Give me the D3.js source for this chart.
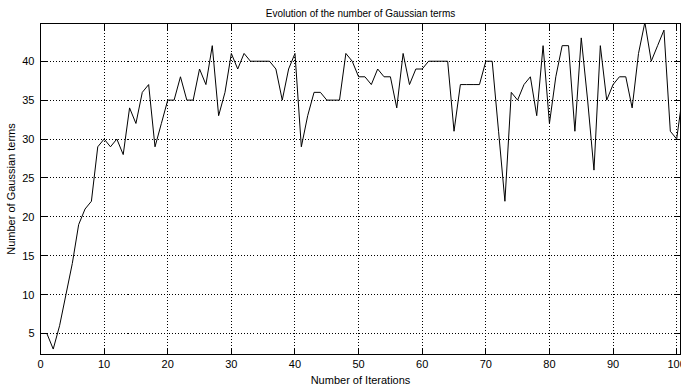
<!DOCTYPE html>
<html>
<head>
<meta charset="utf-8">
<script src="https://cdn.jsdelivr.net/npm/d3@7"></script>
<style>
  body { margin: 0; background: #fff; }
  svg { display: block; font-family: "Liberation Sans", Arial, sans-serif; }
  .grid line { stroke: #000; stroke-dasharray: 1,2; shape-rendering: crispEdges; }
  .tick-label { font-size: 11px; fill: #000; }
  .label { font-size: 11px; fill: #000; }
</style>
</head>
<body>
<svg width="681" height="388"></svg>
<script>
// number of Gaussian terms per iteration (index = iteration)
const gaussTerms = [
  5, 5, 3, 6, 10, 14, 19, 21, 22, 29,
  30, 29, 30, 28, 34, 32, 36, 37, 29, 32,
  35, 35, 38, 35, 35, 39, 37, 42, 33, 36,
  41, 39, 41, 40, 40, 40, 40, 39, 35, 39,
  41, 29, 33, 36, 36, 35, 35, 35, 41, 40,
  38, 38, 37, 39, 38, 38, 34, 41, 37, 39,
  39, 40, 40, 40, 40, 31, 37, 37, 37, 37,
  40, 40, 31, 22, 36, 35, 37, 38, 33, 42,
  32, 38, 42, 42, 31, 43, 35, 26, 42, 35,
  37, 38, 38, 34, 41, 45, 40, 42, 44, 31,
  30, 36
];
const xTicks = [0, 10, 20, 30, 40, 50, 60, 70, 80, 90, 100];
const yTicks = [5, 10, 15, 20, 25, 30, 35, 40];

const data = gaussTerms.map((v, i) => ({ iter: i, value: v }));

const svg = d3.select("svg");

// plot box (MATLAB-like axes position)
const box = { left: 40.5, right: 680.5, top: 23.5, bottom: 354.5 };

const x = d3.scaleLinear().domain([0, 100.6]).range([box.left, box.right]);
const y = d3.scaleLinear().domain([2.3, 44.85]).range([box.bottom, box.top]);

const snap = v => Math.round(v - 0.5) + 0.5;

// dotted grid
const grid = svg.append("g").attr("class", "grid");
grid.selectAll(".gx").data(xTicks.slice(1)).join("line")
  .attr("x1", d => snap(x(d))).attr("x2", d => snap(x(d)))
  .attr("y1", box.top).attr("y2", box.bottom);
grid.selectAll(".gy").data(yTicks).join("line")
  .attr("x1", box.left).attr("x2", box.right)
  .attr("y1", d => snap(y(d))).attr("y2", d => snap(y(d)));

// data line, clipped to the axes
svg.append("clipPath").attr("id", "clip")
  .append("rect").attr("x", box.left).attr("y", box.top)
  .attr("width", box.right - box.left).attr("height", box.bottom - box.top);

const line = d3.line()
  .x(d => x(d.iter))
  .y(d => y(d.value));

svg.append("path")
  .datum(data)
  .attr("clip-path", "url(#clip)")
  .attr("fill", "none")
  .attr("stroke", "#000")
  .attr("stroke-width", 1)
  .attr("d", line);

// inward ticks on all four sides
const tickLen = 6;
const ticks = svg.append("g").attr("stroke", "#000").attr("shape-rendering", "crispEdges");
xTicks.forEach(t => {
  const px = snap(x(t));
  ticks.append("line").attr("x1", px).attr("x2", px).attr("y1", box.bottom).attr("y2", box.bottom - tickLen);
  ticks.append("line").attr("x1", px).attr("x2", px).attr("y1", box.top).attr("y2", box.top + tickLen);
});
yTicks.forEach(t => {
  const py = snap(y(t));
  ticks.append("line").attr("x1", box.left).attr("x2", box.left + tickLen).attr("y1", py).attr("y2", py);
  ticks.append("line").attr("x1", box.right).attr("x2", box.right - tickLen).attr("y1", py).attr("y2", py);
});

// box
svg.append("rect")
  .attr("x", box.left).attr("y", box.top)
  .attr("width", box.right - box.left).attr("height", box.bottom - box.top)
  .attr("fill", "none").attr("stroke", "#000")
  .attr("shape-rendering", "crispEdges");

// tick labels
svg.append("g").selectAll("text").data(xTicks).join("text")
  .attr("class", "tick-label")
  .attr("x", d => x(d))
  .attr("y", box.bottom + 13)
  .attr("text-anchor", "middle")
  .text(d => d);

svg.append("g").selectAll("text").data(yTicks).join("text")
  .attr("class", "tick-label")
  .attr("x", box.left - 6)
  .attr("y", d => y(d) + 4)
  .attr("text-anchor", "end")
  .text(d => d);

// title and axis labels
svg.append("text")
  .attr("class", "label")
  .attr("x", (box.left + box.right) / 2)
  .attr("y", 17)
  .attr("text-anchor", "middle")
  .style("font-size", "10px")
  .text("Evolution of the number of Gaussian terms");

svg.append("text")
  .attr("class", "label")
  .attr("x", (box.left + box.right) / 2)
  .attr("y", 384)
  .attr("text-anchor", "middle")
  .text("Number of Iterations");

svg.append("text")
  .attr("class", "label")
  .attr("transform", `translate(15,${(box.top + box.bottom) / 2}) rotate(-90)`)
  .attr("text-anchor", "middle")
  .text("Number of Gaussian terms");
</script>
</body>
</html>
